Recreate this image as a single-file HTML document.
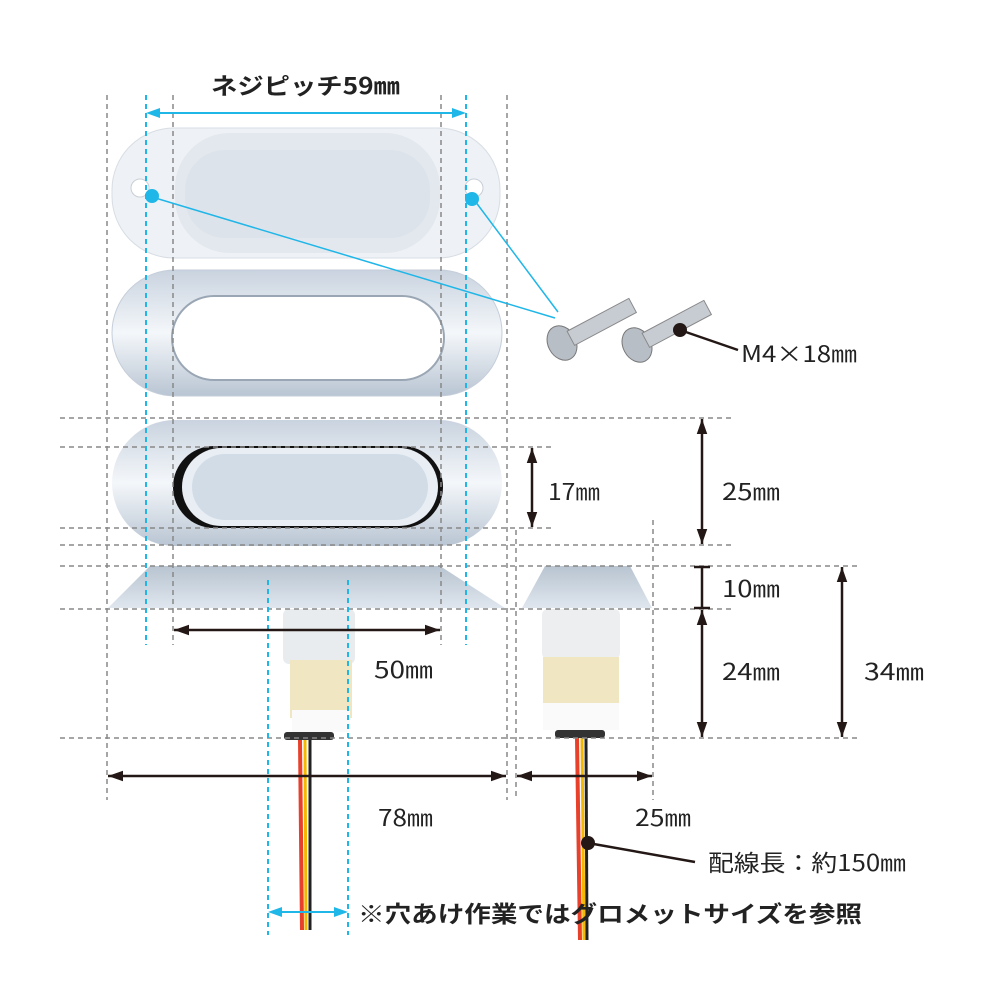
<!DOCTYPE html>
<html><head><meta charset="utf-8"><style>
html,body{margin:0;padding:0;background:#fff;width:1000px;height:1000px;overflow:hidden}
text{font-family:"Noto Sans CJK JP","Liberation Sans",sans-serif;fill:#222}
</style></head><body>
<svg width="1000" height="1000" viewBox="0 0 1000 1000" xmlns="http://www.w3.org/2000/svg">
<defs>
<linearGradient id="chrome" x1="0" y1="0" x2="0" y2="1">
<stop offset="0" stop-color="#c9d3df"/><stop offset="0.5" stop-color="#f4f7fa"/><stop offset="1" stop-color="#b9c5d3"/></linearGradient>
<linearGradient id="cone" x1="0" y1="0" x2="0" y2="1">
<stop offset="0" stop-color="#b8c4d0"/><stop offset="1" stop-color="#dfe6ee"/></linearGradient>
<marker id="ah" viewBox="0 0 10 10" refX="10" refY="5" markerWidth="6" markerHeight="6" orient="auto-start-reverse"><path d="M0,1.5 L10,5 L0,8.5 Z" fill="#231815"/></marker>
</defs>

<rect x="112" y="128" width="388" height="130" rx="62" fill="#eef2f6" stroke="#d7dde4"/>
<rect x="175" y="133" width="265" height="120" rx="55" fill="#e3e8ee"/>
<rect x="185" y="150" width="245" height="88" rx="40" fill="#dde3ea"/>
<circle cx="140" cy="188" r="9" fill="#fff" stroke="#c8ced6"/>
<circle cx="474" cy="188" r="9" fill="#fff" stroke="#c8ced6"/>

<rect x="112" y="270" width="390" height="126" rx="63" fill="url(#chrome)" stroke="#c5ceda"/>
<rect x="172" y="296" width="272" height="84" rx="42" fill="#fff" stroke="#9aa6b4" stroke-width="2"/>

<rect x="112" y="420" width="390" height="126" rx="63" fill="url(#chrome)"/>
<rect x="173" y="446" width="270" height="82" rx="41" fill="#111"/>
<rect x="182" y="448" width="256" height="78" rx="39" fill="#e8eef4"/>
<rect x="192" y="454" width="236" height="66" rx="33" fill="#d2dce7"/>

<polygon points="150,566 440,566 505,608 108,608" fill="url(#cone)"/>
<rect x="283" y="609" width="72" height="55" rx="6" fill="#e9ecef"/>
<rect x="290" y="660" width="62" height="58" fill="#f1e6c2"/>
<rect x="292" y="710" width="58" height="22" fill="#fafafa"/>
<rect x="284" y="732" width="50" height="8" rx="3" fill="#333"/>
<path d="M300,740 L302,930" stroke="#e8412b" stroke-width="4"/>
<path d="M305,740 L306,930" stroke="#f5b800" stroke-width="3"/>
<path d="M310,740 L310,930" stroke="#222" stroke-width="3"/>

<polygon points="545,566 630,566 652,608 522,608" fill="url(#cone)"/>
<rect x="542" y="609" width="78" height="50" rx="6" fill="#eceef0"/>
<rect x="543" y="657" width="76" height="48" fill="#f1e6c2"/>
<rect x="543" y="703" width="76" height="27" fill="#fafafa"/>
<rect x="555" y="730" width="50" height="8" rx="3" fill="#333"/>
<path d="M577,738 L580,940" stroke="#e8412b" stroke-width="4"/>
<path d="M582,738 L584,940" stroke="#f5b800" stroke-width="3"/>
<path d="M586,738 L587,940" stroke="#222" stroke-width="3"/>

<g transform="translate(562,343) rotate(-28)">
<ellipse cx="0" cy="0" rx="14" ry="18" fill="#b8bec6" stroke="#777"/>
<rect x="10" y="-8" width="70" height="16" fill="#c7ccd3" stroke="#888"/>
</g>
<g transform="translate(637,345) rotate(-28)">
<ellipse cx="0" cy="0" rx="14" ry="18" fill="#b8bec6" stroke="#777"/>
<rect x="10" y="-8" width="70" height="16" fill="#c7ccd3" stroke="#888"/>
</g>

<g stroke="#888" stroke-width="1.5" stroke-dasharray="5,4" fill="none">
<line x1="107" y1="95" x2="107" y2="800"/>
<line x1="173" y1="95" x2="173" y2="645"/>
<line x1="441" y1="95" x2="441" y2="645"/>
<line x1="507" y1="95" x2="507" y2="800"/>
<line x1="516" y1="530" x2="516" y2="800"/>
<line x1="653" y1="520" x2="653" y2="800"/>
<line x1="60" y1="418" x2="735" y2="418"/>
<line x1="60" y1="447" x2="555" y2="447"/>
<line x1="60" y1="528" x2="555" y2="528"/>
<line x1="60" y1="545" x2="735" y2="545"/>
<line x1="60" y1="566" x2="860" y2="566"/>
<line x1="60" y1="609" x2="735" y2="609"/>
<line x1="60" y1="738" x2="860" y2="738"/>
</g>
<g stroke="#1fb6e8" stroke-width="2" stroke-dasharray="5,4" fill="none">
<line x1="146" y1="95" x2="146" y2="645"/>
<line x1="466" y1="95" x2="466" y2="645"/>
<line x1="268" y1="580" x2="268" y2="935"/>
<line x1="348" y1="580" x2="348" y2="935"/>
</g>
<g stroke="#1fb6e8" stroke-width="1.5">
<line x1="152" y1="197" x2="555" y2="318"/>
<line x1="472" y1="197" x2="558" y2="312"/>
</g>
<circle cx="152" cy="196" r="7" fill="#1fb6e8"/>
<circle cx="472" cy="199" r="7" fill="#1fb6e8"/>
<g stroke="#1fb6e8" stroke-width="2">
<line x1="150" y1="113" x2="462" y2="113"/>
<line x1="272" y1="912" x2="344" y2="912"/>
</g>
<polygon points="146,113 160,108 160,118" fill="#1fb6e8"/>
<polygon points="466,113 452,108 452,118" fill="#1fb6e8"/>
<polygon points="268,912 282,907 282,917" fill="#1fb6e8"/>
<polygon points="348,912 334,907 334,917" fill="#1fb6e8"/>

<g stroke="#231815" stroke-width="2.5" fill="none">
<line x1="174" y1="630" x2="440" y2="630" marker-start="url(#ah)" marker-end="url(#ah)"/>
<line x1="108" y1="776" x2="506" y2="776" marker-start="url(#ah)" marker-end="url(#ah)"/>
<line x1="517" y1="776" x2="652" y2="776" marker-start="url(#ah)" marker-end="url(#ah)"/>
<line x1="532" y1="448" x2="532" y2="527" marker-start="url(#ah)" marker-end="url(#ah)"/>
<line x1="702" y1="419" x2="702" y2="544" marker-start="url(#ah)" marker-end="url(#ah)"/>
<line x1="702" y1="610" x2="702" y2="737" marker-start="url(#ah)" marker-end="url(#ah)"/>
<line x1="842" y1="567" x2="842" y2="737" marker-start="url(#ah)" marker-end="url(#ah)"/>
<line x1="702" y1="567" x2="702" y2="608"/>
<line x1="694" y1="567" x2="710" y2="567"/>
<line x1="694" y1="608" x2="710" y2="608"/>
<line x1="680" y1="330" x2="738" y2="350"/>
<line x1="588" y1="843" x2="695" y2="862"/>
</g>
<circle cx="680" cy="330" r="7" fill="#231815"/>
<circle cx="588" cy="843" r="7" fill="#231815"/>

<g lengthAdjust="spacingAndGlyphs">
<text x="211" y="94" font-size="23" font-weight="bold" textLength="189" lengthAdjust="spacingAndGlyphs">ネジピッチ59㎜</text>
<text x="741" y="362" font-size="23" textLength="116" lengthAdjust="spacingAndGlyphs">M4×18㎜</text>
<text x="548" y="500" font-size="23" textLength="52" lengthAdjust="spacingAndGlyphs">17㎜</text>
<text x="722" y="500" font-size="23" textLength="58" lengthAdjust="spacingAndGlyphs">25㎜</text>
<text x="722" y="597" font-size="23" textLength="58" lengthAdjust="spacingAndGlyphs">10㎜</text>
<text x="722" y="680" font-size="23" textLength="58" lengthAdjust="spacingAndGlyphs">24㎜</text>
<text x="864" y="680" font-size="23" textLength="60" lengthAdjust="spacingAndGlyphs">34㎜</text>
<text x="374" y="678" font-size="23" textLength="59" lengthAdjust="spacingAndGlyphs">50㎜</text>
<text x="378" y="826" font-size="23" textLength="55" lengthAdjust="spacingAndGlyphs">78㎜</text>
<text x="635" y="826" font-size="23" textLength="56" lengthAdjust="spacingAndGlyphs">25㎜</text>
<text x="708" y="871" font-size="23" textLength="198" lengthAdjust="spacingAndGlyphs">配線長：約150㎜</text>
<text x="358" y="922" font-size="23" font-weight="bold" textLength="504" lengthAdjust="spacingAndGlyphs">※穴あけ作業ではグロメットサイズを参照</text>
</g>
</svg>
</body></html>
